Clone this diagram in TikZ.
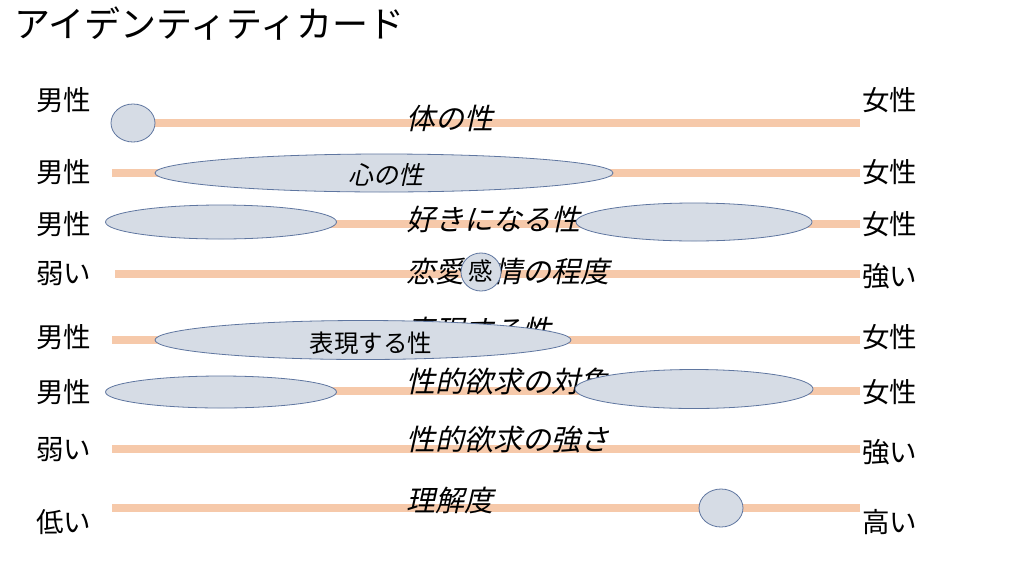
\documentclass[tikz,border=0pt]{standalone}
\usepackage{fontspec}
\setmainfont{Noto Sans CJK JP}
\newfontfamily\jpit{Noto Sans CJK JP}[FakeSlant=0.22]
\usetikzlibrary{shapes.geometric}
\definecolor{barc}{RGB}{246,201,170}
\definecolor{blobc}{RGB}{214,220,229}
\definecolor{blobline}{RGB}{95,118,160}
\begin{document}
\begin{tikzpicture}[x=1pt,y=-1pt,
  barline/.style={line width=8pt, draw=barc},
  blob/.style={ellipse, draw=blobline, fill=blobc, line width=0.8pt, inner sep=0pt},
  lbl/.style={font=\fontsize{27.5}{30}\selectfont, anchor=west, inner sep=0pt},
  cat/.style={font=\jpit\fontsize{29}{32}\selectfont, anchor=west, inner sep=0pt},
  intext/.style={font=\fontsize{24.5}{26}\selectfont, inner sep=0pt},
  intextit/.style={font=\jpit\fontsize{25}{26}\selectfont, inner sep=0pt}]
\useasboundingbox[fill=white] (0,0) rectangle (1024,576);
\node[font=\fontsize{36}{40}\selectfont, anchor=west, inner sep=0pt] (title) at (14,24) {アイデンティティカード};
% bars
\foreach \i/\y/\xs in {1/123/112,2/173/112,3/224/112,4/274/115,5/340/112,6/391/112,7/449/112,8/508/112}{
  \coordinate (s\i) at (\xs,\y);
  \coordinate (e\i) at (860,\y);
  \draw[barline] (s\i) -- (e\i);
}
% left / right labels
\node[lbl] (l1) at (36,100) {男性};  \node[lbl] (r1) at (862,100) {女性};
\node[lbl] (l2) at (36,172) {男性};  \node[lbl] (r2) at (862,172) {女性};
\node[lbl] (l3) at (36,224) {男性};  \node[lbl] (r3) at (862,224) {女性};
\node[lbl] (l4) at (36,274) {弱い};  \node[lbl] (r4) at (862,276) {強い};
\node[lbl] (l5) at (36,337) {男性};  \node[lbl] (r5) at (862,337) {女性};
\node[lbl] (l6) at (36,392) {男性};  \node[lbl] (r6) at (862,392) {女性};
\node[lbl] (l7) at (36,450) {弱い};  \node[lbl] (r7) at (862,452) {強い};
\node[lbl] (l8) at (36,522) {低い};  \node[lbl] (r8) at (862,522) {高い};
% category texts
\node[cat] (c1) at (406,118) {体の性};
\node[cat] (c3) at (406,220) {好きになる性};
\node[cat] (c4) at (406,271) {恋愛感情の程度};
\node[cat] (c5) at (406,331) {表現する性};
\node[cat] (c6) at (406,381) {性的欲求の対象};
\node[cat] (c7) at (406,440) {性的欲求の強さ};
\node[cat] (c8) at (406,500) {理解度};
% blobs
\node[blob, minimum width=44pt, minimum height=38pt] (k1) at (133,123) {};
\node[blob, minimum width=458pt, minimum height=38pt] (k2) at (384,173) {};
\node[intextit] (t2) at (386,175) {心の性};
\node[blob, minimum width=231pt, minimum height=34pt] (k3a) at (221,222) {};
\node[blob, minimum width=236pt, minimum height=38pt] (k3b) at (694,222) {};
\node[blob, minimum width=40pt, minimum height=38pt] (k4) at (481,272) {};
\node[intext] (t4) at (481,271) {感};
\node[blob, minimum width=416pt, minimum height=39pt] (k5) at (363,340) {};
\node[intext] (t5) at (371,343) {表現する性};
\node[blob, minimum width=231pt, minimum height=32pt] (k6a) at (221,392) {};
\node[blob, minimum width=238pt, minimum height=39pt] (k6b) at (694,389) {};
\node[blob, minimum width=44pt, minimum height=38pt] (k8) at (721,508) {};
\end{tikzpicture}
\end{document}
